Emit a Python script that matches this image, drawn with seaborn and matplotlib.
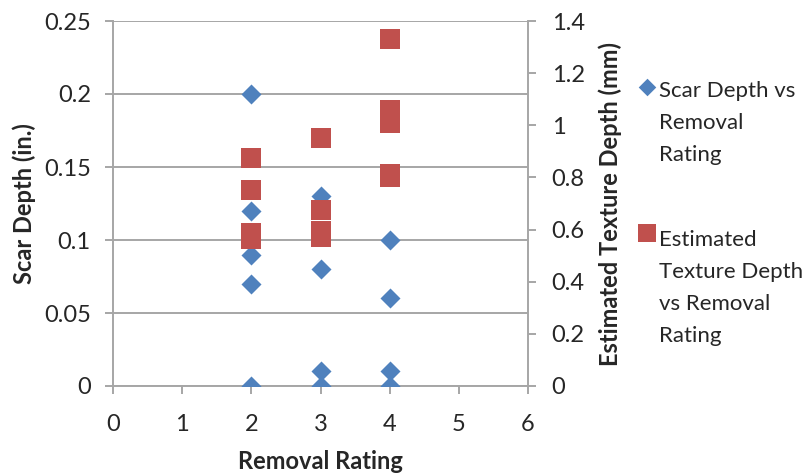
import numpy as np
import pandas as pd
import matplotlib
matplotlib.use("Agg")
import matplotlib.pyplot as plt
import seaborn as sns
from matplotlib.legend_handler import HandlerPathCollection

# Scar depth (in.) by removal rating
scar_rating = [2, 2, 2, 2, 2, 3, 3, 3, 3, 4, 4, 4, 4]
scar_depth = [0.20, 0.12, 0.09, 0.07, 0.0, 0.13, 0.08, 0.01, 0.0, 0.10, 0.06, 0.01, 0.0]

# Estimated texture depth (mm) by removal rating
tex_rating = [2, 2, 2, 2, 3, 3, 3, 3, 4, 4, 4, 4, 4]
tex_depth = [0.875, 0.75, 0.585, 0.565, 0.95, 0.675, 0.595, 0.57, 1.33, 1.06, 1.01, 0.815, 0.80]

x_ticks = [0, 1, 2, 3, 4, 5, 6]
left_ticks = [0, 0.05, 0.1, 0.15, 0.2, 0.25]
left_ticklabels = ["0", "0.05", "0.1", "0.15", "0.2", "0.25"]
right_ticks = [0, 0.2, 0.4, 0.6, 0.8, 1.0, 1.2, 1.4]
right_ticklabels = ["0", "0.2", "0.4", "0.6", "0.8", "1", "1.2", "1.4"]

scar_label = "Scar Depth vs\nRemoval\nRating"
tex_label = "Estimated\nTexture Depth\nvs Removal\nRating"

BLUE = "#4F81BD"
RED = "#C0504D"
GRID = "#A6A6A6"
TEXT = "#262626"

sns.set_theme(style="white")
plt.rcParams["font.family"] = ["Lato", "DejaVu Sans"]
plt.rcParams["text.color"] = TEXT
plt.rcParams["axes.labelcolor"] = TEXT
plt.rcParams["xtick.color"] = TEXT
plt.rcParams["ytick.color"] = TEXT

scar_df = pd.DataFrame({"Removal Rating": scar_rating, "Scar Depth": scar_depth})
tex_df = pd.DataFrame({"Removal Rating": tex_rating, "Texture Depth": tex_depth})

fig = plt.figure(figsize=(8.11, 4.74), dpi=100)
ax = fig.add_axes([113 / 811, 1 - 386 / 474, (528 - 113) / 811, (386 - 21) / 474])
ax2 = ax.twinx()

sns.scatterplot(data=scar_df, x="Removal Rating", y="Scar Depth", ax=ax,
                marker="D", s=104, color=BLUE, linewidth=0, label=scar_label,
                legend=False, zorder=3)
sns.scatterplot(data=tex_df, x="Removal Rating", y="Texture Depth", ax=ax2,
                marker="s", s=190, color=RED, linewidth=0, label=tex_label,
                legend=False, zorder=3)

ax.set_xlim(0, 6)
ax.set_ylim(0, 0.25)
ax2.set_ylim(0, 1.4)

ax.set_xticks(x_ticks)
ax.set_xticklabels([str(v) for v in x_ticks])
ax.set_yticks(left_ticks)
ax.set_yticklabels(left_ticklabels)
ax2.set_yticks(right_ticks)
ax2.set_yticklabels(right_ticklabels)

ax.yaxis.grid(True, color=GRID, linewidth=1.4)
ax.xaxis.grid(False)
ax2.grid(False)
ax.set_axisbelow(True)

for a in (ax, ax2):
    a.spines["top"].set_visible(False)
    for s in a.spines.values():
        s.set_color(GRID)
        s.set_linewidth(1.4)
ax.spines["right"].set_visible(False)
ax2.spines["left"].set_visible(False)
ax2.spines["bottom"].set_visible(False)

ax.tick_params(axis="x", direction="out", length=6, width=1.4, color=GRID,
               labelsize=17, pad=14, bottom=True)
ax.tick_params(axis="y", direction="out", length=6, width=1.4, color=GRID,
               labelsize=17, pad=10, left=True)
ax2.tick_params(axis="y", direction="out", length=6, width=1.4, color=GRID,
                labelsize=17, pad=11, right=True)

ax.set_xlabel("Removal Rating", fontsize=17, fontweight="bold", labelpad=11)
ax.set_ylabel("Scar Depth (in.)", fontsize=17, fontweight="bold", labelpad=6)
ax2.set_ylabel("Estimated Texture Depth (mm)", fontsize=17, fontweight="bold", labelpad=10)

# Legend to the right, marker aligned with the first line of each label
h1 = ax.collections[0]
h2 = ax2.collections[0]
step = 1.18  # one text line expressed in handle-height units
leg = fig.legend(
    [h1, h2], [scar_label, tex_label],
    loc="upper left", bbox_to_anchor=(626 / 811, 1 - 70 / 474),
    frameon=False, fontsize=16, scatterpoints=1, borderpad=0,
    handletextpad=0.1, handlelength=0.9, labelspacing=2.9,
    handler_map={
        h1: HandlerPathCollection(yoffsets=[0.5 + 2 * step], sizes=[80]),
        h2: HandlerPathCollection(yoffsets=[0.5 + 3 * step], sizes=[150]),
    },
)
for t in leg.get_texts():
    t.set_linespacing(1.75)

fig.savefig("out.png", dpi=100)
